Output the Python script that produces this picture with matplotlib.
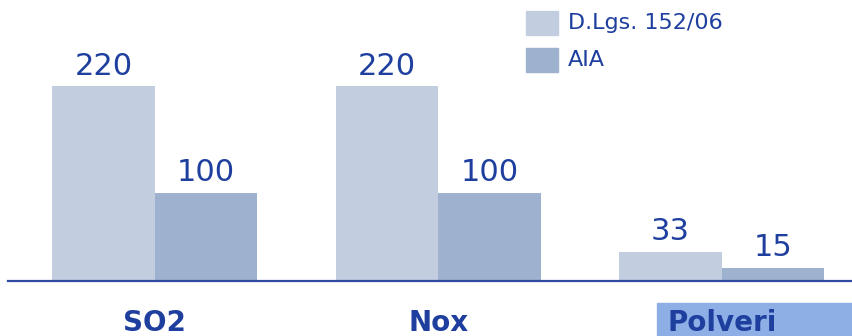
import numpy as np
import matplotlib.pyplot as plt
from matplotlib.patches import Rectangle

categories = ['SO2', 'Nox', 'Polveri']
series_names = ['D.Lgs. 152/06', 'AIA']
dlgs = [220, 220, 33]
aia = [100, 100, 15]

col_light = '#C3CDE0'
col_dark = '#9EB1CE'
txt_blue = '#1E3F9E'
line_blue = '#2E4CA0'
hl_box = '#8EAEE6'

fig = plt.figure(figsize=(8.52, 3.36), dpi=100)
ax = fig.add_axes([8 / 852, 55 / 336, 1 - 8 / 852, 275 / 336])

x = np.arange(len(categories))
w = 0.362
b1 = ax.bar(x - w / 2, dlgs, w, color=col_light, label=series_names[0])
b2 = ax.bar(x + w / 2, aia, w, color=col_dark, label=series_names[1])

ax.bar_label(b1, padding=4, fontsize=22, color=txt_blue)
ax.bar_label(b2, padding=4, fontsize=22, color=txt_blue)

ax.set_xlim(-0.518, 2.459)
ax.set_ylim(0, 311)
for s in ['top', 'left', 'right']:
    ax.spines[s].set_visible(False)
ax.spines['bottom'].set_color(line_blue)
ax.spines['bottom'].set_linewidth(1.6)
ax.set_yticks([])
ax.set_xticks(x)
ax.set_xticklabels(categories, fontsize=20, fontweight='bold', color=txt_blue)
ax.tick_params(axis='x', length=0, pad=20)

# highlight box behind the last category label
fig.add_artist(Rectangle((657 / 852, 0), 1 - 657 / 852, 33 / 336,
                         transform=fig.transFigure, color=hl_box, zorder=0))

# legend drawn by hand
for i, (name, c) in enumerate(zip(series_names, [col_light, col_dark])):
    y0 = 1 - (35 + 37 * i) / 336
    fig.add_artist(Rectangle((526 / 852, y0), 32 / 852, 24 / 336,
                             transform=fig.transFigure, color=c))
    fig.text(568 / 852, y0 + 12 / 336, name, fontsize=16, color=txt_blue,
             va='center', ha='left')

fig.savefig('out.png', dpi=100)
